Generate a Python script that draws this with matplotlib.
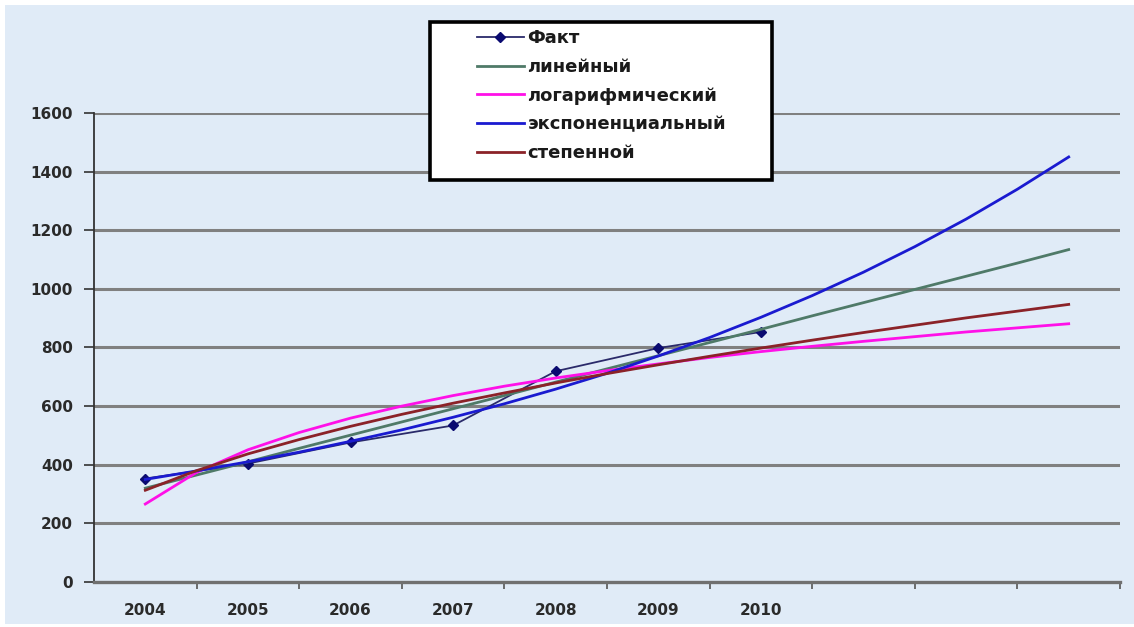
import matplotlib
matplotlib.use("Agg")
import matplotlib.pyplot as plt
from matplotlib.patches import Rectangle

plt.rcParams['font.family'] = ['DejaVu Sans']

# ---- data ----
categories = ["2004", "2005", "2006", "2007", "2008", "2009", "2010", "", "", ""]
fact_values = [353, 404, 476, 534, 719, 798, 853]

# trend values read at half-category steps (x = 1, 1.5, ..., 10)
trend_x = [1, 1.5, 2, 2.5, 3, 3.5, 4, 4.5, 5, 5.5, 6, 6.5, 7, 7.5, 8, 8.5, 9, 9.5, 10]
linear_vals = [320, 365, 410, 456, 501, 546, 591, 636, 682, 727, 772, 817,
               862, 908, 953, 998, 1043, 1088, 1134]
log_vals = [266, 374, 451, 510, 559, 600, 636, 668, 696, 721, 744, 766,
            786, 804, 821, 837, 853, 867, 881]
exp_vals = [350, 379, 410, 443, 480, 519, 562, 608, 658, 712, 771, 834,
            903, 977, 1057, 1144, 1238, 1340, 1450]
power_vals = [313, 380, 437, 486, 531, 572, 610, 645, 679, 711, 741, 770,
              798, 825, 851, 876, 901, 924, 947]

labels = ["Факт", "линейный", "логарифмический", "экспоненциальный", "степенной"]
y_ticks = [0, 200, 400, 600, 800, 1000, 1200, 1400, 1600]

W, H = 1134, 627
fig = plt.figure(figsize=(W / 100, H / 100), dpi=100)
fig.patch.set_facecolor("white")
fig.patches.append(Rectangle((5 / W, 3 / H), 1 - 5 / W, 1 - 8 / H,
                             transform=fig.transFigure, facecolor="#e0ebf7",
                             edgecolor="none", zorder=-10))

ax = fig.add_axes([94 / W, 1 - 582 / H, (1120 - 94) / W, (582 - 113) / H])
ax.set_facecolor("none")
ax.set_zorder(5)

n = len(categories)
xs = list(range(1, len(fact_values) + 1))

h_fact, = ax.plot(xs, fact_values, color="#2a2a6a", lw=1.3, marker="D",
                  markersize=5, markerfacecolor="#0a0a70",
                  markeredgecolor="#0a0a70", zorder=3)
h_lin, = ax.plot(trend_x, linear_vals, color="#4f7a68", lw=2.0, zorder=4)
h_log, = ax.plot(trend_x, log_vals, color="#ff10e8", lw=2.0, zorder=4)
h_exp, = ax.plot(trend_x, exp_vals, color="#1a1ad0", lw=2.0, zorder=4)
h_pow, = ax.plot(trend_x, power_vals, color="#8b2228", lw=2.0, zorder=4)

ax.set_xlim(0.5, n + 0.5)
ax.set_ylim(0, 1600)

# y axis
ax.set_yticks(y_ticks)
ax.set_yticklabels([str(v) for v in y_ticks], fontsize=11, fontweight="bold",
                   color="#2a2a2a")
ax.tick_params(axis="y", length=7, width=1.2, color="#333333", pad=8)
for v in y_ticks[1:]:
    ax.axhline(v, color="#808080", lw=2.2, zorder=1)

# x axis: labels at centers, tick marks at boundaries
ax.set_xticks(range(1, n + 1))
ax.set_xticklabels(categories, fontsize=11, fontweight="bold", color="#2a2a2a")
ax.tick_params(axis="x", which="major", length=0, pad=15)
ax.set_xticks([i + 0.5 for i in range(1, n + 1)], minor=True)
ax.tick_params(axis="x", which="minor", length=5, width=1.2, color="#555555",
               direction="out")

for s in ["top", "right"]:
    ax.spines[s].set_visible(False)
ax.spines["left"].set_color("#333333")
ax.spines["left"].set_linewidth(1.3)
ax.spines["bottom"].set_color("#707070")
ax.spines["bottom"].set_linewidth(2.4)

# legend box
fig.patches.append(Rectangle((430 / W, 1 - 180 / H), (772 - 430) / W, (180 - 22) / H,
                             transform=fig.transFigure, facecolor="white",
                             edgecolor="black", linewidth=2.6, zorder=8))
leg = fig.legend([h_fact, h_lin, h_log, h_exp, h_pow], labels,
                 loc="upper left", bbox_to_anchor=(477 / W, 1 - 29 / H),
                 bbox_transform=fig.transFigure,
                 prop={"weight": "bold", "size": 13},
                 frameon=False, handlelength=2.6, handletextpad=0.2,
                 labelspacing=0.6, borderpad=0, borderaxespad=0)
leg.set_zorder(9)
for t in leg.get_texts():
    t.set_color("#1a1a1a")

fig.savefig("out.png", dpi=100, facecolor=fig.get_facecolor())
